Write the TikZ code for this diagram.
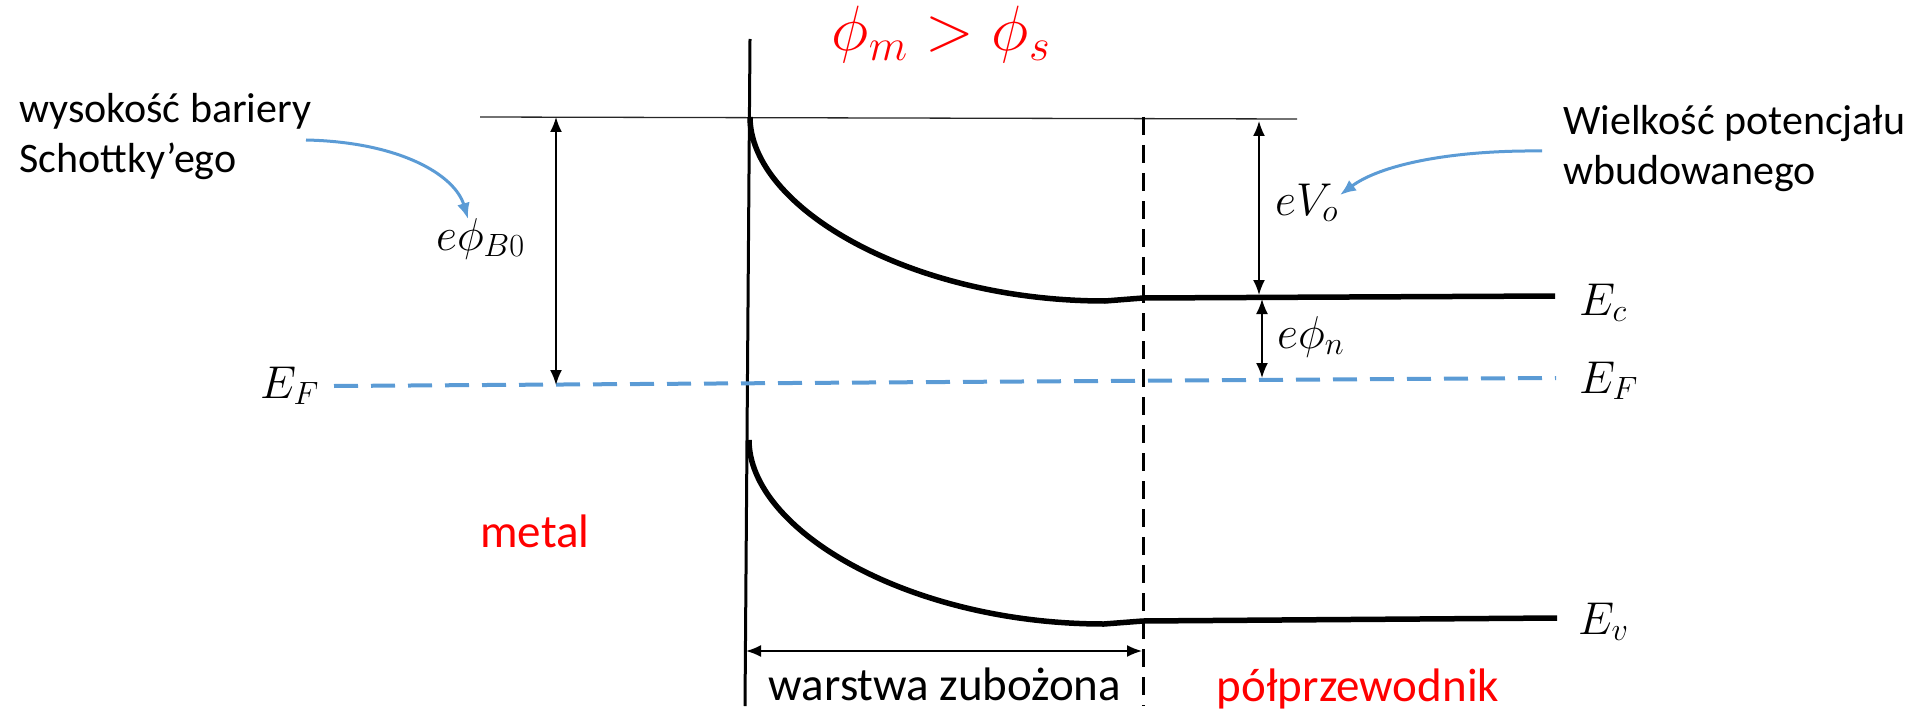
\RequirePackage{fix-cm}
\documentclass[tikz,border=0pt]{standalone}
\usepackage{fontspec}
\setmainfont{Carlito}
\usetikzlibrary{arrows.meta}
\definecolor{myblue}{HTML}{5B9BD5}
\definecolor{myred}{HTML}{FF0000}
\begin{document}
\begin{tikzpicture}[x=1pt,y=-1pt,
  lbl/.style={inner sep=0pt, anchor=base west},
  ctr/.style={inner sep=0pt, anchor=base},
  small/.style={font=\fontsize{42}{50}\selectfont},
  big/.style={font=\fontsize{47}{56}\selectfont},
  mth/.style={font=\fontsize{46}{54}\selectfont},
  band/.style={line width=5.5pt, line join=round},
  dim/.style={line width=1.8pt, {Latex[length=15pt,width=12pt]}-{Latex[length=15pt,width=12pt]}},
  callout/.style={myblue, line width=3pt, -{Latex[length=16pt,width=13pt]}},
]
\useasboundingbox (0,0) rectangle (1918,714);

% key coordinates
\coordinate (mtop) at (750,39);
\coordinate (mbot) at (745,706);
\coordinate (vacL) at (480,117);
\coordinate (vacR) at (1297,119);
\coordinate (dtop) at (1143,117);
\coordinate (dbot) at (1143,706);
\coordinate (efL) at (334,386);
\coordinate (efR) at (1556,378);

% vacuum / barrier level line
\draw[line width=1.3pt, black!85] (vacL) -- (vacR);
% metal surface
\draw[line width=3pt] (mtop) -- (mbot);
% depletion edge
\draw[line width=3pt, dash pattern=on 18pt off 10pt] (dtop) -- (dbot);
% Fermi level
\draw[myblue, line width=4pt, dash pattern=on 24pt off 13pt] (efL) -- (efR);

% conduction band
\draw[band] (750,117) .. controls (750,207) and (910,301) .. (1105,301) -- (1143,298) -- (1555,296);
% valence band
\draw[band] (749,440) .. controls (749,530) and (909,624) .. (1104,624) -- (1143,621) -- (1557,618);

% dimension arrows
\coordinate (b0t) at (556,117);
\coordinate (b0b) at (556,385);
\coordinate (v0t) at (1259,121);
\coordinate (v0b) at (1259,295);
\coordinate (nt) at (1262,299);
\coordinate (nb) at (1262,378);
\coordinate (wl) at (746,651);
\coordinate (wr) at (1142,651);
\draw[dim] (b0t) -- (b0b);
\draw[dim] (v0t) -- (v0b);
\draw[dim] (nt) -- (nb);
\draw[dim] (wl) -- (wr);

% math labels
\node[ctr, font=\fontsize{64}{74}\selectfont, text=myred] (title) at (941,51) {$\phi_m > \phi_s$};
\node[lbl,mth] (phiB) at (436,250) {$e\phi_{B0}$};
\node[lbl,mth] (eV) at (1275,215) {$eV_o$};
\node[lbl,mth] (ephin) at (1277,348) {$e\phi_n$};
\node[lbl,mth] (Ec) at (1579,315) {$E_c$};
\node[lbl,mth] (EFr) at (1579,393) {$E_F$};
\node[lbl,mth] (Ev) at (1578,634) {$E_v$};
\node[lbl,mth] (EFl) at (260,398) {$E_F$};

% text labels
\node[lbl,small] (s1) at (19,123) {wysokość bariery};
\node[lbl,small] (s2) at (19,173) {Schottky’ego};
\node[lbl,small] (w1) at (1563,135) {Wielkość potencjału};
\node[lbl,small] (w2) at (1563,185) {wbudowanego};
\node[ctr,big,text=myred] (metal) at (535,547) {metal};
\node[ctr,big] (warstwa) at (945,700) {warstwa zubożona};
\node[ctr,big,text=myred] (polp) at (1358,701) {półprzewodnik};

% callout arrows
\coordinate (c1s) at (306,140);
\coordinate (c1e) at (468,219);
\coordinate (c2s) at (1542,151);
\coordinate (c2e) at (1340,195);
\draw[callout] (c1s) .. controls (400,142) and (455,175) .. (c1e);
\draw[callout] (c2s) .. controls (1450,150) and (1380,165) .. (c2e);
\end{tikzpicture}
\end{document}
